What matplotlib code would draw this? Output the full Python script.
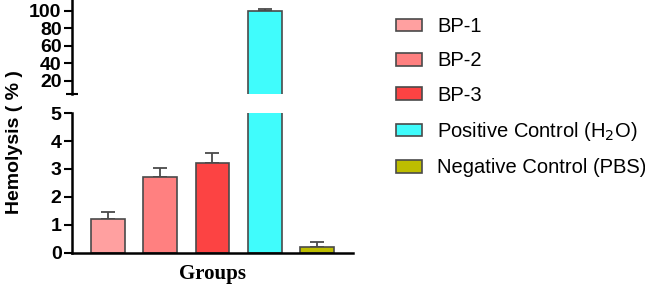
import matplotlib.pyplot as plt
import numpy as np

groups = ['BP-1', 'BP-2', 'BP-3', 'Positive Control (H$_2$O)', 'Negative Control (PBS)']
hemolysis = [1.2, 2.7, 3.2, 100.0, 0.2]
sd = [0.25, 0.33, 0.38, 1.8, 0.2]
colors = ['#ffa0a0', '#ff8080', '#fc4343', '#40fcfc', '#bdbd00']

low_ticks = [0, 1, 2, 3, 4, 5]
high_ticks = [20, 40, 60, 80, 100]

plt.rcParams['font.family'] = ['Liberation Sans', 'DejaVu Sans']

fig = plt.figure(figsize=(6.45, 2.85), dpi=100)
ax_lo = fig.add_axes([0.1116, 0.1123, 0.4357, 0.4912])
ax_hi = fig.add_axes([0.1116, 0.670, 0.4357, 0.33])

x = np.arange(len(groups))
edge = '#4a4a4a'
for ax, keep in ((ax_lo, [0, 1, 2, 4]), (ax_hi, [3])):
    ax.bar(x, hemolysis, width=0.65, color=colors, edgecolor=edge,
           linewidth=1.2, zorder=2)
    ax.errorbar(x[keep], np.array(hemolysis)[keep],
                yerr=[np.zeros(len(keep)), np.array(sd)[keep]], fmt='none',
                ecolor=edge, elinewidth=1.3, capsize=5, capthick=1.3, zorder=1)
    ax.set_xlim(-0.69, 4.69)
    for s in ('top', 'right'):
        ax.spines[s].set_visible(False)
    ax.spines['left'].set_linewidth(1.8)
    ax.tick_params(axis='y', length=5.5, width=1.5, labelsize=14, pad=2)
    ax.patch.set_alpha(0)

ax_lo.set_ylim(0, 5)
ax_lo.set_yticks(low_ticks)
ax_lo.set_yticklabels([str(t) for t in low_ticks], fontweight='bold')
ax_lo.spines['bottom'].set_linewidth(1.8)
ax_lo.set_xticks([])
ax_lo.set_xlabel('Groups', family='Liberation Serif', fontweight='bold',
                 fontsize=15, labelpad=8)

ax_hi.set_ylim(5, 112)
ax_hi.set_yticks(high_ticks)
ax_hi.set_yticklabels([str(t) for t in high_ticks], fontweight='bold')
ax_hi.spines['bottom'].set_visible(False)
ax_hi.set_xticks([])

# end caps at the axis break
for ax in (ax_lo, ax_hi):
    ax.set_yticks([5], minor=True)
    ax.tick_params(axis='y', which='minor', direction='inout', length=9, width=1.5)

fig.text(0.022, 0.50, 'Hemolysis ( % )', rotation=90, ha='center', va='center',
         fontsize=14, fontweight='bold')

handles = [plt.Rectangle((0, 0), 1, 1, facecolor=c, edgecolor=edge, linewidth=1.2)
           for c in colors]
fig.legend(handles, groups, loc='upper left', bbox_to_anchor=(0.598, 0.975),
           frameon=False, fontsize=14.5, handlelength=1.3, handleheight=0.6,
           handletextpad=0.75, labelspacing=0.76, borderpad=0)

fig.savefig('out.png', dpi=100)
